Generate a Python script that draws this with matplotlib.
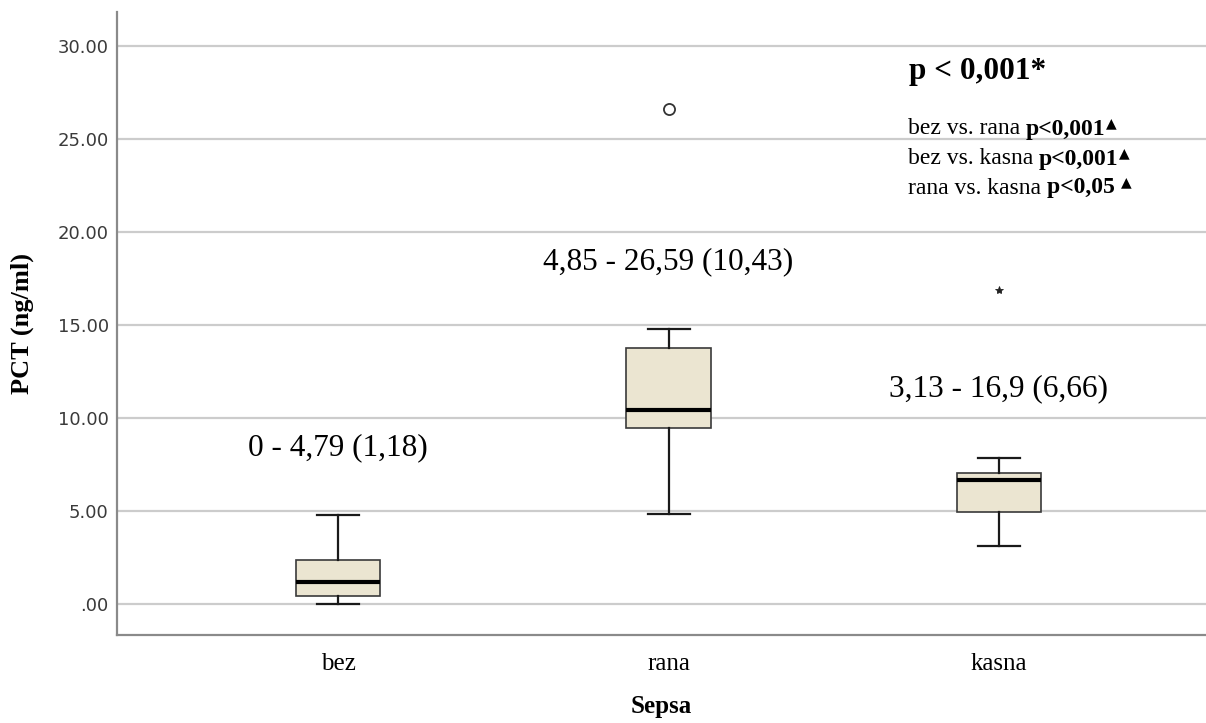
import matplotlib
matplotlib.use("Agg")
import matplotlib.pyplot as plt

# box summaries (ng/ml)
groups = ["bez", "rana", "kasna"]
whis_low = [0.0, 4.85, 3.13]
q1 = [0.45, 9.46, 4.95]
medians = [1.18, 10.43, 6.66]
q3 = [2.35, 13.78, 7.05]
whis_high = [4.79, 14.8, 7.85]
outliers = [[], [26.59], [16.9]]
outlier_marks = ["o", "o", "*"]

range_labels = ["0 - 4,79 (1,18)", "4,85 - 26,59 (10,43)", "3,13 - 16,9 (6,66)"]
range_label_y = [8.4, 18.4, 11.6]

yticks = [0, 5, 10, 15, 20, 25, 30]
ytick_labels = [".00", "5.00", "10.00", "15.00", "20.00", "25.00", "30.00"]

pair_labels = ["bez vs. rana ", "bez vs. kasna ", "rana vs. kasna "]
pair_p = ["p<0,001", "p<0,001", "p<0,05 "]

serif = ["Liberation Serif", "DejaVu Serif"]

fig = plt.figure(figsize=(12.06, 7.23), dpi=100)
ax = fig.add_axes([117 / 1206, 88 / 723, 1 - 117 / 1206, 623 / 723])

stats = []
for i, g in enumerate(groups):
    stats.append(dict(label=g, whislo=whis_low[i], q1=q1[i], med=medians[i],
                      q3=q3[i], whishi=whis_high[i], fliers=outliers[i]))

pos = list(range(len(groups)))
res = ax.bxp(stats, positions=pos, widths=0.255, capwidths=0.127,
             patch_artist=True,
             boxprops=dict(facecolor="#ebe5d1", edgecolor="#3a3a3a", linewidth=1.2),
             medianprops=dict(color="black", linewidth=3),
             whiskerprops=dict(color="#1a1a1a", linewidth=1.6),
             capprops=dict(color="#1a1a1a", linewidth=1.6),
             flierprops=dict(marker="o", markerfacecolor="none",
                             markeredgecolor="#333333", markersize=8,
                             markeredgewidth=1.3))
for fl, m in zip(res["fliers"], outlier_marks):
    if m == "*":
        fl.set_marker("*")
        fl.set_markerfacecolor("#222222")
        fl.set_markeredgecolor("#222222")
        fl.set_markersize(6)
        fl.set_markeredgewidth(0.6)

ax.set_xlim(-0.67, 2.627)
ax.set_ylim(-1.667, 31.83)
ax.set_yticks(yticks)
ax.set_yticklabels(ytick_labels)
ax.yaxis.grid(True, color="#cccccc", linewidth=1.6)
ax.set_axisbelow(True)

for s in ["top", "right"]:
    ax.spines[s].set_visible(False)
for s in ["left", "bottom"]:
    ax.spines[s].set_color("#8a8a8a")
    ax.spines[s].set_linewidth(1.6)

ax.tick_params(axis="y", length=0, pad=6, labelsize=13, labelcolor="#3a3a3a")
ax.tick_params(axis="x", length=0, pad=13)
for t in ax.get_xticklabels():
    t.set_family(serif)
    t.set_fontsize(18)

ax.set_ylabel("PCT (ng/ml)", family=serif, fontsize=19, fontweight="bold")
ax.yaxis.set_label_coords(-0.087, 0.5)
ax.yaxis.label.set_va("center")
ax.set_xlabel("Sepsa", family=serif, fontsize=18, fontweight="bold")
ax.xaxis.set_label_coords(0.5, -0.115)
ax.xaxis.label.set_va("center")

for i in range(len(groups)):
    ax.text(pos[i], range_label_y[i], range_labels[i], ha="center", va="center",
            family=serif, fontsize=22.5)

ax.text(909 / 1206, (723 - 72) / 723, "p < 0,001*", transform=fig.transFigure,
        ha="left", va="center", family=serif, fontsize=22.5, fontweight="bold")

line_y = [129, 159, 188]
for i in range(len(pair_labels)):
    t1 = ax.text(908 / 1206, (723 - line_y[i]) / 723, pair_labels[i],
                 transform=fig.transFigure, ha="left", va="center",
                 family=serif, fontsize=17)
    t2 = ax.annotate(pair_p[i], xy=(1, 0), xycoords=t1, ha="left", va="bottom",
                     family=serif, fontsize=17, fontweight="bold")
    ax.annotate("\u25b2", xy=(1, 0.45), xycoords=t2, ha="left", va="bottom",
                family=["DejaVu Sans"], fontsize=10)

fig.savefig("out.png", dpi=100)
